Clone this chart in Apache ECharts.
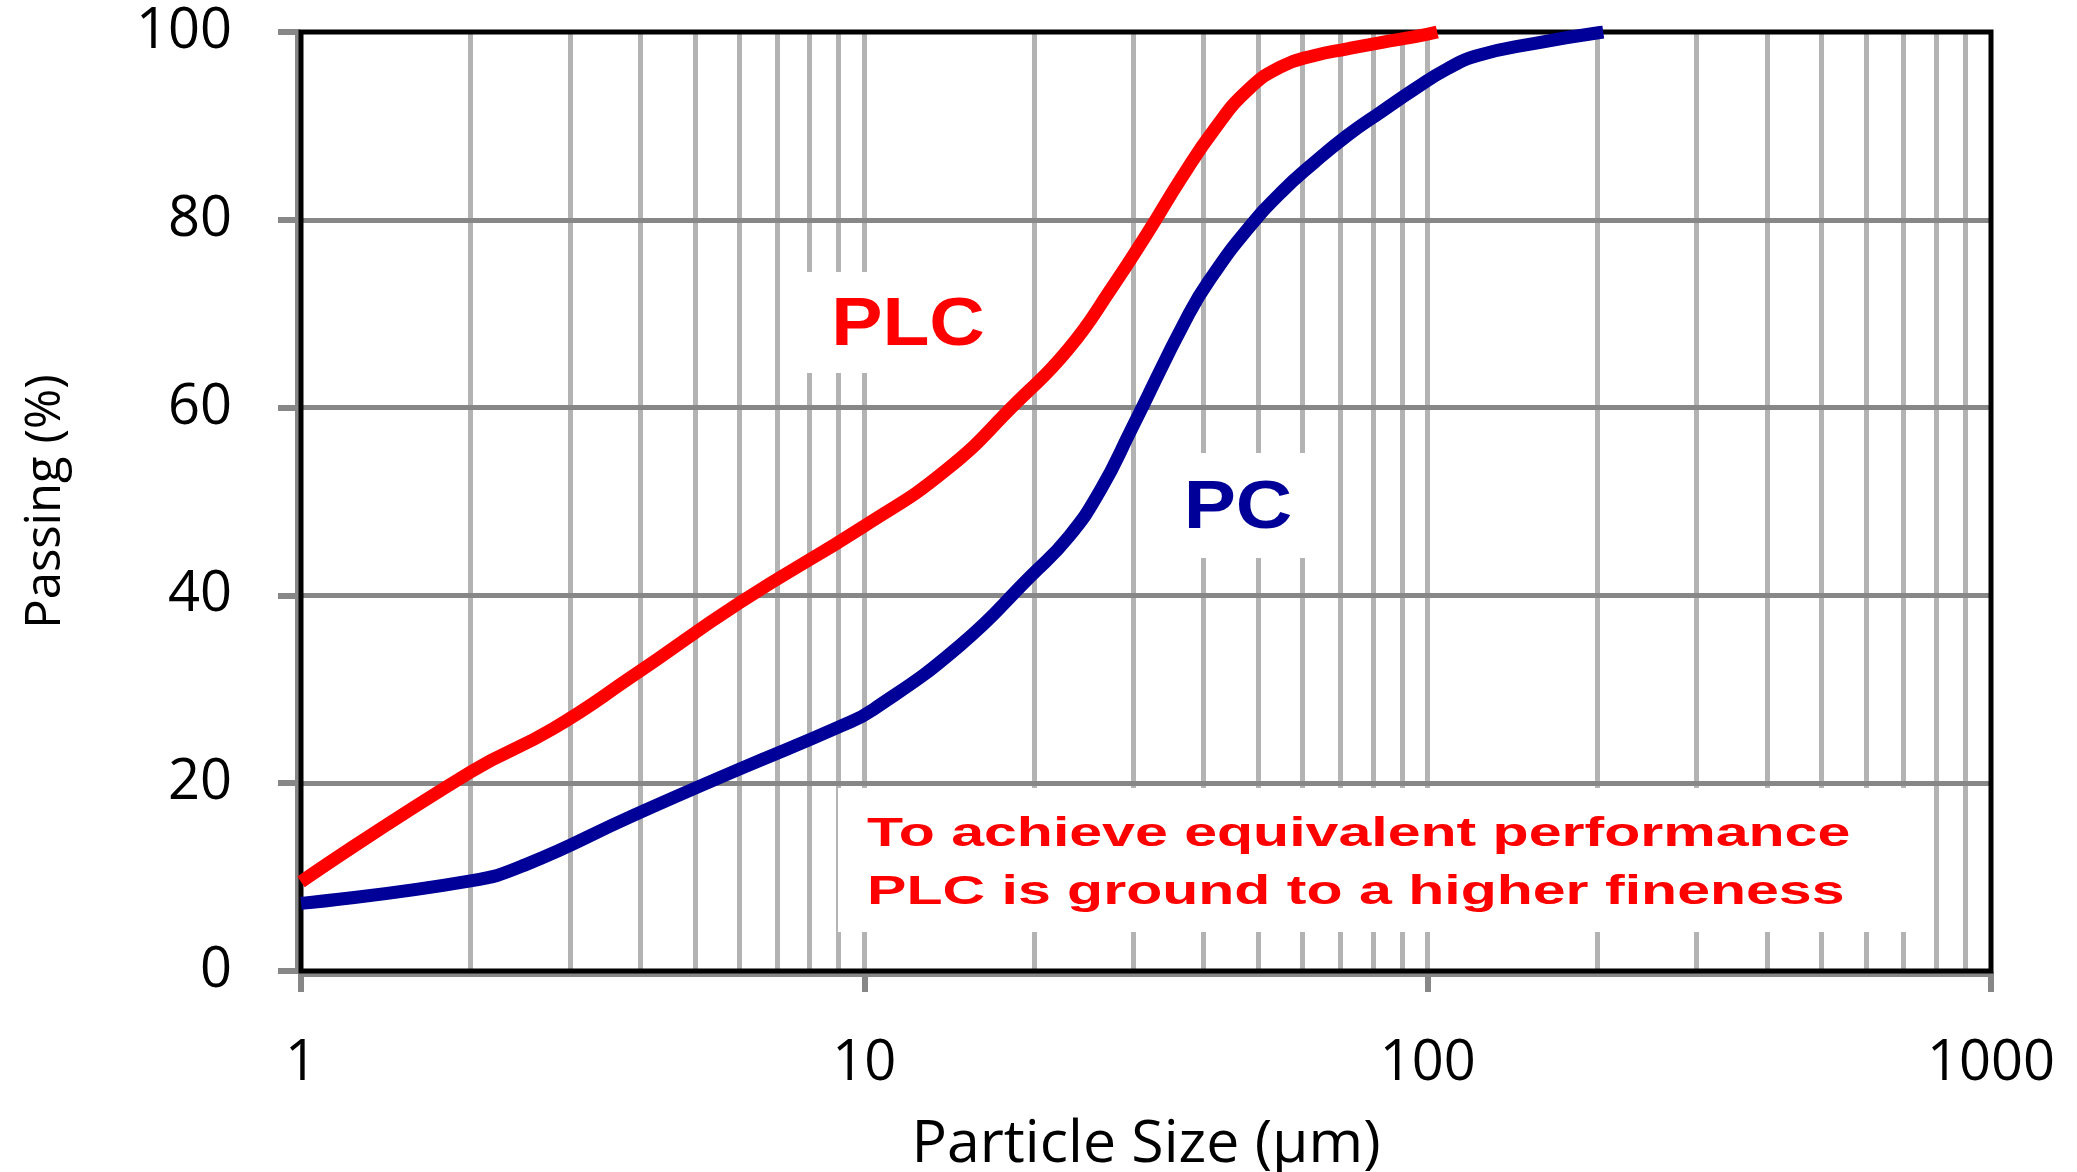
<!DOCTYPE html>
<html>
<head>
<meta charset="utf-8">
<script src="https://cdn.jsdelivr.net/npm/echarts@6/dist/echarts.min.js"></script>
<style>
html,body{margin:0;padding:0;background:#ffffff;}
#chart{width:2077px;height:1172px;}
</style>
</head>
<body>
<div id="chart"></div>
<script>
// ---- data ----
const plcSize    = [1, 2, 2.8, 3.9, 6, 10, 14, 18.6, 23, 27.6, 31.9, 36.5, 41.9, 47.9, 54.9, 63, 72, 83, 95, 104];
const plcPassing = [9.5, 21.2, 25.8, 31.5, 39.2, 47.4, 53.4, 60.5, 66.2, 72.9, 78.7, 84.4, 89.7, 93.8, 96.3, 97.5, 98.2, 98.9, 99.5, 100];

const pcSize     = [1, 2, 2.5, 3.9, 6, 9.1, 10.4, 14.8, 19.7, 23.1, 26.3, 29.8, 37.7, 41.9, 47.9, 54.9, 62.9, 72.1, 82.7, 94.7, 108.5, 122.7, 155, 205];
const pcPassing  = [7.2, 9.6, 11.3, 16.6, 21.5, 26.1, 27.9, 34.7, 42.0, 46.3, 51.3, 57.7, 70.0, 74.4, 79.0, 82.9, 86.1, 89.0, 91.5, 93.9, 96.1, 97.5, 98.8, 100];

const xMin = 1, xMax = 1000;
const yMin = 0, yMax = 100, yStep = 20;
const xGridValues = [2,3,4,5,6,7,8,9,10,20,30,40,50,60,70,80,90,100,200,300,400,500,600,700,800,900];
const yGridValues = [20, 40, 60, 80];

const xTitle = 'Particle Size (µm)';
const yTitle = 'Passing (%)';
const plcLabel = 'PLC';
const pcLabel = 'PC';
const noteLines = ['To achieve equivalent performance', 'PLC is ground to a higher fineness'];

// ---- chart ----
const chart = echarts.init(document.getElementById('chart'), null, {renderer: 'canvas'});

const gridLineData = xGridValues.map(v => ({xAxis: v, lineStyle: {color: '#b3b3b3', width: 5, type: 'solid'}}))
  .concat(yGridValues.map(v => ({yAxis: v, lineStyle: {color: '#878787', width: 5, type: 'solid'}})));

const axisFont = 'Open Sans';

const option = {
  animation: false,
  backgroundColor: '#ffffff',
  grid: {
    left: 301, top: 32, width: 1690, height: 939,
    containLabel: false, outerBoundsMode: 'none',
    show: true, borderColor: '#000000', borderWidth: 5, backgroundColor: 'transparent',
    z: 2
  },
  xAxis: {
    type: 'log', logBase: 10, min: xMin, max: xMax, offset: 3,
    axisLine: {show: true, onZero: false, lineStyle: {color: '#878787', width: 6}},
    axisTick: {show: true, length: 18, lineStyle: {color: '#878787', width: 6}},
    axisLabel: {fontFamily: axisFont, fontSize: 56, color: '#000000', margin: 62,
      formatter: v => String(Math.round(v))},
    splitLine: {show: false},
    name: xTitle, nameLocation: 'middle', nameGap: 142,
    nameTextStyle: {fontFamily: axisFont, fontSize: 59, color: '#000000'}
  },
  yAxis: {
    type: 'value', min: yMin, max: yMax, interval: yStep, offset: 3,
    axisLine: {show: true, lineStyle: {color: '#878787', width: 6}},
    axisTick: {show: true, length: 20, lineStyle: {color: '#878787', width: 6}},
    axisLabel: {fontFamily: axisFont, fontSize: 56, color: '#000000', margin: 66},
    splitLine: {show: false},
    name: yTitle, nameLocation: 'middle', nameRotate: 90, nameGap: 227,
    nameTextStyle: {fontFamily: axisFont, fontSize: 49, color: '#000000'}
  },
  series: [
    {
      name: 'grid', type: 'line', data: [], z: 1, silent: true,
      markLine: {
        z: 1, silent: true, symbol: ['none', 'none'], animation: false,
        label: {show: false}, emphasis: {disabled: true},
        data: gridLineData
      }
    },
    {
      name: 'PC', type: 'line', z: 3, silent: true,
      data: pcSize.map((d, i) => [d, pcPassing[i]]),
      smooth: 0.5, symbol: 'none', showSymbol: false,
      lineStyle: {color: '#000099', width: 13, cap: 'butt'},
      emphasis: {disabled: true}
    },
    {
      name: 'PLC', type: 'line', z: 3, silent: true,
      data: plcSize.map((d, i) => [d, plcPassing[i]]),
      smooth: 0.5, symbol: 'none', showSymbol: false,
      lineStyle: {color: '#ff0000', width: 13, cap: 'butt'},
      emphasis: {disabled: true}
    }
  ],
  graphic: [
    {type: 'rect', z: 10, silent: true, shape: {x: 798, y: 272, width: 222, height: 101}, style: {fill: '#ffffff'}},
    {type: 'text', z: 11, silent: true, x: 908, y: 326, scaleX: 1.13,
      style: {text: plcLabel, font: 'bold 68px "Liberation Sans", Arial, sans-serif', fill: '#ff0000', align: 'center', verticalAlign: 'middle'}},
    {type: 'rect', z: 10, silent: true, shape: {x: 1150, y: 453, width: 176, height: 105}, style: {fill: '#ffffff'}},
    {type: 'text', z: 11, silent: true, x: 1238, y: 509, scaleX: 1.15,
      style: {text: pcLabel, font: 'bold 68px "Liberation Sans", Arial, sans-serif', fill: '#000099', align: 'center', verticalAlign: 'middle'}},
    {type: 'rect', z: 10, silent: true, shape: {x: 838, y: 788, width: 1082, height: 144}, style: {fill: '#ffffff'}},
    {type: 'text', z: 11, silent: true, x: 867, y: 835, scaleX: 1.44,
      style: {text: noteLines[0], font: 'bold 41px "Liberation Sans", Arial, sans-serif', fill: '#ff0000', align: 'left', verticalAlign: 'middle'}},
    {type: 'text', z: 11, silent: true, x: 867, y: 893, scaleX: 1.44,
      style: {text: noteLines[1], font: 'bold 41px "Liberation Sans", Arial, sans-serif', fill: '#ff0000', align: 'left', verticalAlign: 'middle'}}
  ]
};

chart.setOption(option);
</script>
</body>
</html>
